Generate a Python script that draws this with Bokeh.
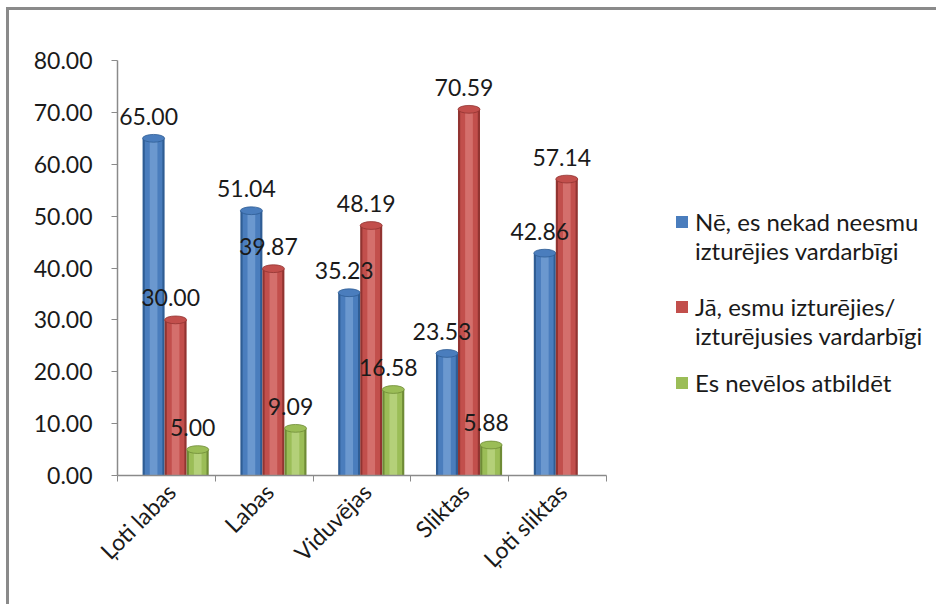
from bokeh.plotting import figure
from bokeh.layouts import row
from bokeh.models import ColumnDataSource, Legend, LegendItem, NumeralTickFormatter, FixedTicker
from bokeh.core.properties import value
from bokeh.embed import file_html
from bokeh.resources import INLINE
import math

categories = ["Ļoti labas", "Labas", "Viduvējas", "Sliktas", "Ļoti sliktas"]
legend_lines = [["Nē, es nekad neesmu", "izturējies vardarbīgi"],
                ["Jā, esmu izturējies/", "izturējusies vardarbīgi"],
                ["Es nevēlos atbildēt"]]
never = [65.00, 51.04, 35.23, 23.53, 42.86]
yes = [30.00, 39.87, 48.19, 70.59, 57.14]
no_answer = [5.00, 9.09, 16.58, 5.88, None]
y_ticks = [0, 10, 20, 30, 40, 50, 60, 70, 80]

FONT = "Lato"
TXT = "#1a1a1a"
GRAY = "#8a8a8a"
idx = list(range(len(categories)))

p = figure(x_range=(-0.55, len(categories) - 0.55), y_range=(0, 80),
           frame_width=489, frame_height=415, output_backend="svg", toolbar_location=None,
           min_border_left=108, min_border_right=10, min_border_top=50, min_border_bottom=120)
p.outline_line_color = None
p.xgrid.grid_line_color = None
p.ygrid.grid_line_color = None

series = [
    (never, -0.181, ("#2f5d94", "#4a7dbd", "#86aede")),
    (yes, 0.044, ("#923431", "#c24f4c", "#e38a87")),
    (no_answer, 0.27, ("#6f8b36", "#9bbd57", "#c9e095")),
]
W = 0.225
sources = []
for vals, off, (dark, mid, light) in series:
    xs = [i + off for i, v in zip(idx, vals) if v is not None]
    vs = [v for v in vals if v is not None]
    src = ColumnDataSource(dict(x=xs, val=vs, lab=["%.2f" % v for v in vs]))
    sources.append(src)
    p.vbar(x="x", top="val", width=W, source=src, fill_color=dark, line_color=None)
    p.vbar(x="x", top="val", width=W * 0.8, source=src, fill_color=mid, line_color=None)
    p.vbar(x="x", top="val", width=W * 0.35, source=src, fill_color=light, line_color=None,
           fill_alpha=0.55)
    p.ellipse(x="x", y="val", width=W, height=1.5, source=src, fill_color=mid,
              line_color=dark, line_width=0.8)
for src in sources:
    p.text(x="x", y="val", text="lab", source=src,
           text_font=value(FONT), text_font_size="23px", text_color=TXT,
           text_align="center", text_baseline="alphabetic", x_offset=-5, y_offset=-22)

p.yaxis.ticker = FixedTicker(ticks=y_ticks)
p.yaxis.formatter = NumeralTickFormatter(format="0.00")
p.xaxis.ticker = FixedTicker(ticks=idx, minor_ticks=[i - 0.55 for i in range(len(categories) + 1)])
p.xaxis.major_label_overrides = {i: c for i, c in zip(idx, categories)}
for ax in (p.xaxis, p.yaxis):
    ax.axis_line_color = GRAY
    ax.axis_line_width = 1.5
    ax.major_tick_line_color = GRAY
    ax.minor_tick_line_color = GRAY
    ax.major_label_text_font = FONT
    ax.major_label_text_font_size = "23px"
    ax.major_label_text_color = TXT
p.yaxis.major_tick_out = 6
p.yaxis.major_tick_in = 0
p.yaxis.minor_tick_line_color = None
p.yaxis.major_label_standoff = 19
p.xaxis.major_label_orientation = math.pi / 4
p.xaxis.major_tick_out = 0
p.xaxis.major_tick_in = 0
p.xaxis.minor_tick_out = 6
p.xaxis.minor_tick_in = 0
p.xaxis.major_label_standoff = 6

# legend panel
q = figure(width=320, height=594, x_range=(0, 1), y_range=(0, 1), x_axis_type=None,
           y_axis_type=None, output_backend="svg", toolbar_location=None, min_border=0)
q.outline_line_color = None
q.xgrid.grid_line_color = None
q.ygrid.grid_line_color = None
blank = q.vbar(x=[5], top=[0.5], width=0.1, fill_alpha=0, line_alpha=0)
positions = [(58, 219), (58, 134), (58, 87)]
for lines, (_, _, (dark, mid, light)), loc in zip(legend_lines, series, positions):
    r = q.vbar(x=[5], top=[0.5], width=0.1, fill_color=mid, line_color=None)
    items = [LegendItem(label=lines[0], renderers=[r])]
    items += [LegendItem(label=t, renderers=[blank]) for t in lines[1:]]
    lg = Legend(items=items, location=loc, border_line_color=None, background_fill_alpha=0,
                label_text_font=FONT, label_text_font_size="24px", label_text_color=TXT,
                glyph_width=15, glyph_height=15, spacing=0, padding=0, margin=0,
                label_standoff=6, label_height=27)
    q.add_layout(lg, "center")

layout = row(p, q)
layout.styles = {"border-top": "3px solid " + GRAY, "border-left": "3px solid " + GRAY,
                 "margin-top": "7px", "margin-left": "6px"}
open("out.html", "w").write(file_html(layout, INLINE))
